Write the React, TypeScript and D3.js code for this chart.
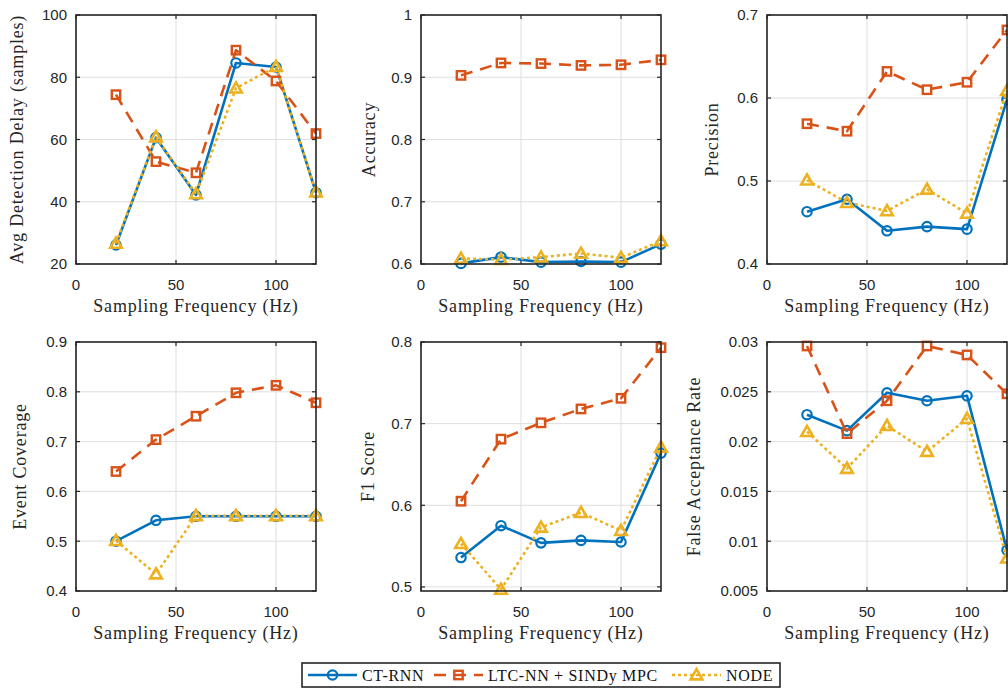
import React from "react";
import * as d3 from "d3";

// sampling frequencies (Hz) on the x axis
const freqs = [20, 40, 60, 80, 100, 120];
const xTicks = [0, 50, 100];
const seriesNames = ["CT-RNN", "LTC-NN + SINDy MPC", "NODE"];

// Avg detection delay (samples)
const delayCT = [26.1, 60.6, 42.2, 84.6, 83.3, 42.9];
const delayLTC = [74.4, 52.9, 49.3, 88.7, 78.8, 61.9];
const delayNODE = [26.6, 60.8, 42.5, 76.5, 83.4, 43.1];
const delayTicks = [20, 40, 60, 80, 100];

// Accuracy
const accCT = [0.601, 0.611, 0.603, 0.604, 0.603, 0.632];
const accLTC = [0.903, 0.923, 0.922, 0.919, 0.92, 0.928];
const accNODE = [0.609, 0.607, 0.611, 0.617, 0.61, 0.637];
const accTicks = [0.6, 0.7, 0.8, 0.9, 1];

// Precision
const precCT = [0.463, 0.478, 0.44, 0.445, 0.442, 0.598];
const precLTC = [0.569, 0.56, 0.632, 0.61, 0.619, 0.682];
const precNODE = [0.501, 0.474, 0.464, 0.49, 0.461, 0.609];
const precTicks = [0.4, 0.5, 0.6, 0.7];

// Event coverage
const covCT = [0.5, 0.542, 0.55, 0.55, 0.55, 0.55];
const covLTC = [0.64, 0.704, 0.751, 0.798, 0.813, 0.778];
const covNODE = [0.501, 0.434, 0.551, 0.551, 0.551, 0.551];
const covTicks = [0.4, 0.5, 0.6, 0.7, 0.8, 0.9];

// F1 score
const f1CT = [0.536, 0.575, 0.554, 0.557, 0.555, 0.664];
const f1LTC = [0.605, 0.681, 0.701, 0.718, 0.731, 0.793];
const f1NODE = [0.553, 0.497, 0.573, 0.591, 0.569, 0.671];
const f1Ticks = [0.5, 0.6, 0.7, 0.8];

// False acceptance rate
const farCT = [0.0227, 0.0211, 0.0249, 0.0241, 0.0246, 0.0091];
const farLTC = [0.0296, 0.0208, 0.0241, 0.0296, 0.0287, 0.0248];
const farNODE = [0.021, 0.0173, 0.0216, 0.019, 0.0223, 0.0083];
const farTicks = [0.005, 0.01, 0.015, 0.02, 0.025, 0.03];

const colors = ["#0072BD", "#D95319", "#EDB120"];
const dashes = ["", "12 8", "3 3"];

const labelFont = "'Liberation Serif', 'Times New Roman', serif";
const tickFont = "'Liberation Sans', Arial, sans-serif";
const axisColor = "#262626";

const colX = [76, 421, 767];
const rowY = [15, 342];
const plotW = 240;
const plotH = 249;

const panels = [
  { ylabel: "Avg Detection Delay (samples)", domain: [20, 100], ticks: delayTicks, values: [delayCT, delayLTC, delayNODE], col: 0, row: 0, labelOff: 53 },
  { ylabel: "Accuracy", domain: [0.6, 1], ticks: accTicks, values: [accCT, accLTC, accNODE], col: 1, row: 0, labelOff: 46 },
  { ylabel: "Precision", domain: [0.4, 0.7], ticks: precTicks, values: [precCT, precLTC, precNODE], col: 2, row: 0, labelOff: 49 },
  { ylabel: "Event Coverage", domain: [0.4, 0.9], ticks: covTicks, values: [covCT, covLTC, covNODE], col: 0, row: 1, labelOff: 50 },
  { ylabel: "F1 Score", domain: [0.495, 0.8], ticks: f1Ticks, values: [f1CT, f1LTC, f1NODE], col: 1, row: 1, labelOff: 47 },
  { ylabel: "False Acceptance Rate", domain: [0.005, 0.03], ticks: farTicks, values: [farCT, farLTC, farNODE], col: 2, row: 1, labelOff: 67 },
];

const Marker = ({ kind, x, y, color }: { kind: number; x: number; y: number; color: string }) => {
  if (kind === 0) {
    return <circle cx={x} cy={y} r={4.7} fill="none" stroke={color} strokeWidth={2.2} />;
  }
  if (kind === 1) {
    return <rect x={x - 4.2} y={y - 4.2} width={8.4} height={8.4} fill="none" stroke={color} strokeWidth={2.4} />;
  }
  const s = 5.8;
  return (
    <path
      d={`M${x},${y - s} L${x + s},${y + s * 0.75} L${x - s},${y + s * 0.75} Z`}
      fill="none"
      stroke={color}
      strokeWidth={2.6}
      strokeLinejoin="miter"
    />
  );
};

const Panel = ({ p }: { p: (typeof panels)[number] }) => {
  const left = colX[p.col];
  const top = rowY[p.row];
  const x = d3.scaleLinear().domain([0, 120]).range([0, plotW]);
  const y = d3.scaleLinear().domain(p.domain).range([plotH, 0]);
  const line = d3
    .line<number>()
    .x((_, i) => x(freqs[i]))
    .y((d) => y(d));
  const fmt = (v: number) => String(+v.toFixed(4));

  return (
    <g transform={`translate(${left},${top})`}>
      <rect x={0} y={0} width={plotW} height={plotH} fill="#fff" />
      {/* grid */}
      {xTicks.map((t) => (
        <line key={`gx${t}`} x1={x(t)} x2={x(t)} y1={0} y2={plotH} stroke="#dedede" strokeWidth={1} />
      ))}
      {p.ticks.map((t) => (
        <line key={`gy${t}`} x1={0} x2={plotW} y1={y(t)} y2={y(t)} stroke="#dedede" strokeWidth={1} />
      ))}
      {/* inward ticks on all four sides */}
      {xTicks.map((t) => (
        <g key={`tx${t}`}>
          <line x1={x(t)} x2={x(t)} y1={plotH} y2={plotH - 4} stroke={axisColor} strokeWidth={1.2} />
          <line x1={x(t)} x2={x(t)} y1={0} y2={4} stroke={axisColor} strokeWidth={1.2} />
          <text x={x(t)} y={plotH + 26} textAnchor="middle" fontFamily={tickFont} fontSize={15} fill={axisColor}>
            {t}
          </text>
        </g>
      ))}
      {p.ticks.map((t) => (
        <g key={`ty${t}`}>
          <line x1={0} x2={4} y1={y(t)} y2={y(t)} stroke={axisColor} strokeWidth={1.2} />
          <line x1={plotW} x2={plotW - 4} y1={y(t)} y2={y(t)} stroke={axisColor} strokeWidth={1.2} />
          <text x={-9} y={y(t)} dy="0.36em" textAnchor="end" fontFamily={tickFont} fontSize={15} fill={axisColor}>
            {fmt(t)}
          </text>
        </g>
      ))}
      {/* series */}
      {p.values.map((vals, si) => (
        <g key={`s${si}`}>
          <path
            d={line(vals) ?? ""}
            fill="none"
            stroke={colors[si]}
            strokeWidth={2.6}
            strokeDasharray={dashes[si]}
            strokeLinejoin="round"
          />
          {vals.map((v, i) => (
            <Marker key={i} kind={si} x={x(freqs[i])} y={y(v)} color={colors[si]} />
          ))}
        </g>
      ))}
      {/* box */}
      <rect x={0} y={0} width={plotW} height={plotH} fill="none" stroke={axisColor} strokeWidth={1.6} />
      <text
        x={plotW / 2}
        y={plotH + 48}
        textAnchor="middle"
        fontFamily={labelFont}
        fontSize={18}
        letterSpacing={0.8}
        fill={axisColor}
      >
        Sampling Frequency (Hz)
      </text>
      <text
        transform={`translate(${-p.labelOff},${plotH / 2}) rotate(-90)`}
        textAnchor="middle"
        fontFamily={labelFont}
        fontSize={18}
        letterSpacing={0.8}
        fill={axisColor}
      >
        {p.ylabel}
      </text>
    </g>
  );
};

// legend item anchors: line start, text start
const legendItems = [
  { lineX: 308, textX: 362 },
  { lineX: 434, textX: 488 },
  { lineX: 672, textX: 726 },
];

const Legend = () => {
  const yMid = 675;
  return (
    <g>
      <rect x={302} y={663} width={478} height={24} fill="#fff" stroke={axisColor} strokeWidth={1.6} />
      {legendItems.map((it, i) => (
        <g key={i}>
          <line
            x1={it.lineX}
            x2={it.lineX + 49}
            y1={yMid}
            y2={yMid}
            stroke={colors[i]}
            strokeWidth={2.6}
            strokeDasharray={dashes[i]}
          />
          <Marker kind={i} x={it.lineX + 24.5} y={yMid} color={colors[i]} />
          <text x={it.textX} y={yMid + 5.5} fontFamily={labelFont} fontSize={16} letterSpacing={0.7} fill="#111">
            {seriesNames[i]}
          </text>
        </g>
      ))}
    </g>
  );
};

export default function App() {
  return (
    <svg
      width={1008}
      height={688}
      style={{ position: "absolute", left: 0, top: 0, background: "#fff" }}
    >
      <rect width={1008} height={688} fill="#fff" />
      {panels.map((p, i) => (
        <Panel key={i} p={p} />
      ))}
      <Legend />
    </svg>
  );
}
